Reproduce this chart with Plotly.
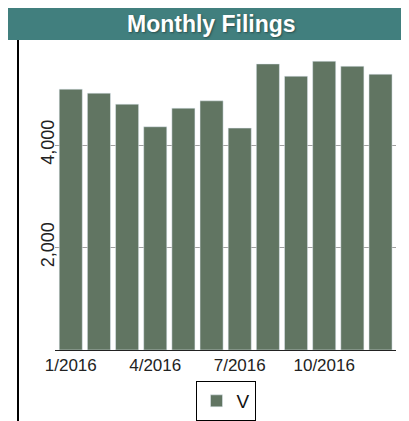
import plotly.graph_objects as go

# monthly filings, 2016
months = [f"{m}/2016" for m in range(1, 13)]
filings = [5091, 5013, 4798, 4357, 4720, 4863, 4331, 5583, 5344, 5636, 5538, 5383]
tick_months = ["1/2016", "4/2016", "7/2016", "10/2016"]
y_ticks = [2000, 4000]

BAR_COLOR = "#617562"
BAND_COLOR = "#417f7e"

fig = go.Figure()
fig.add_trace(go.Bar(
    x=months,
    y=filings,
    name="V",
    marker_color=BAR_COLOR,
))

# the page body keeps its 8px margin, so the figure is 8px smaller each way
fig.update_layout(
    width=401,
    height=413,
    margin=dict(l=47, r=13, t=32, b=71, autoexpand=False),
    paper_bgcolor="white",
    plot_bgcolor="white",
    bargap=0.18,
    font=dict(family="Liberation Sans, Arial, sans-serif", size=17, color="#222"),
    showlegend=True,
    legend=dict(
        orientation="h",
        x=0.5, xanchor="center",
        y=-0.1, yanchor="top",
        bordercolor="black",
        borderwidth=1,
        font=dict(size=19, color="#111"),
    ),
    xaxis=dict(
        type="category",
        tickvals=tick_months,
        range=[-0.56, 11.55],
        showline=True,
        linecolor="#222",
        linewidth=1,
        showgrid=False,
        ticks="",
        automargin=False,
    ),
    yaxis=dict(
        range=[0, 6050],
        tickvals=y_ticks,
        tickformat=",",
        tickangle=-90,
        tickfont=dict(size=18),
        ticklabelstandoff=-4,
        showgrid=True,
        gridcolor="#a0a0a0",
        gridwidth=1,
        zeroline=False,
        showline=False,
        automargin=False,
    ),
    shapes=[
        # title band
        dict(type="rect", xref="paper", yref="paper",
             x0=-0.1437, x1=1.04, y0=1.0, y1=1.12,
             fillcolor=BAND_COLOR, line_width=0, layer="below"),
        # left dark rule
        dict(type="line", xref="paper", yref="paper",
             x0=-0.1085, x1=-0.1085, y0=1.0, y1=-0.25,
             line=dict(color="black", width=2)),
        # right light rule
        dict(type="line", xref="paper", yref="paper",
             x0=1.0352, x1=1.0352, y0=1.0, y1=-0.25,
             line=dict(color="#b0b0b0", width=1)),
    ],
    annotations=[
        dict(text="<b>Monthly Filings</b>", xref="paper", yref="paper",
             x=0.4604, y=1.0516, showarrow=False,
             xanchor="center", yanchor="middle",
             font=dict(size=23, color="white", shadow="1px 1px 2px #2a4f4e")),
    ],
)

fig.write_html("out.html")
